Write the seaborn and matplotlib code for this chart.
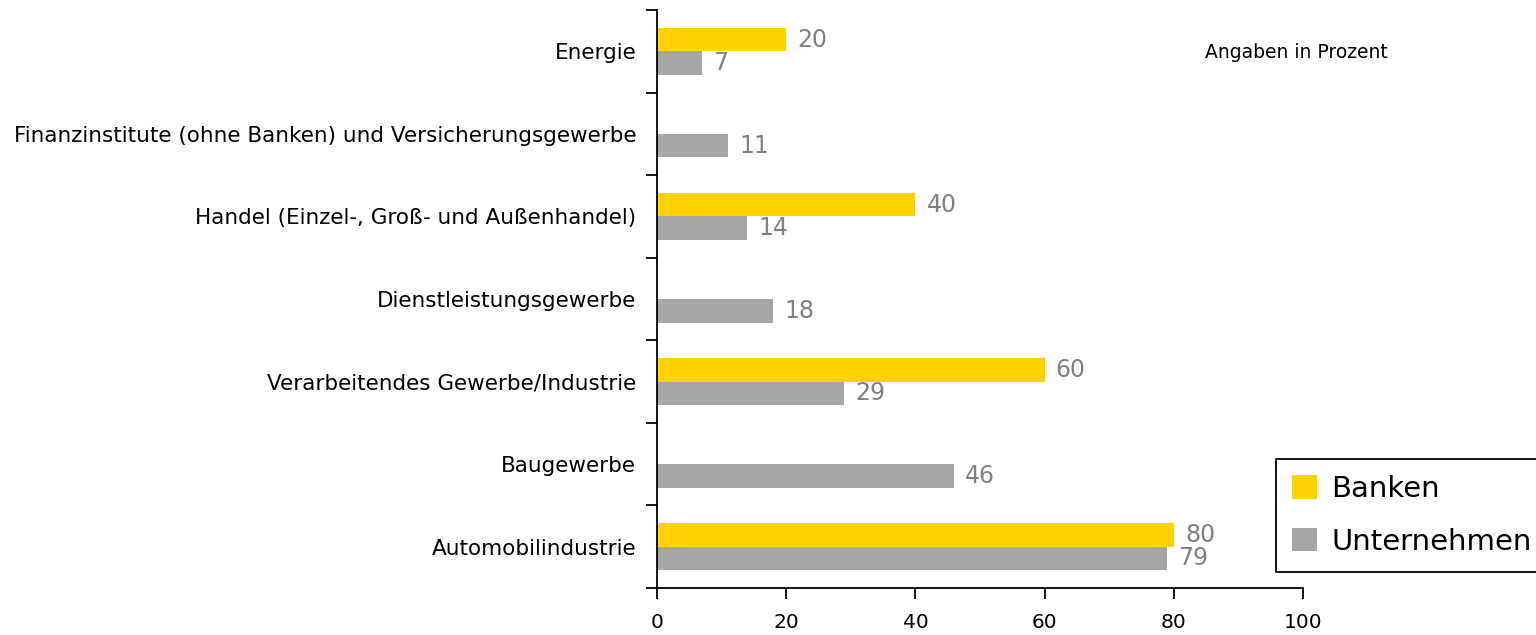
import pandas as pd
import numpy as np
import matplotlib
matplotlib.use('Agg')
import matplotlib.pyplot as plt
import seaborn as sns

# -------------------------------
# Data
# -------------------------------
categories = [
    'Energie',
    'Finanzinstitute (ohne Banken) und Versicherungsgewerbe',
    'Handel (Einzel-, Groß- und Außenhandel)',
    'Dienstleistungsgewerbe',
    'Verarbeitendes Gewerbe/Industrie',
    'Baugewerbe',
    'Automobilindustrie',
]
banken = [20, np.nan, 40, np.nan, 60, np.nan, 80]
unternehmen = [7, 11, 14, 18, 29, 46, 79]
series_names = ['Banken', 'Unternehmen']
colors = ['#FFD200', '#A6A6A6']
x_ticks = [0, 20, 40, 60, 80, 100]

df = pd.DataFrame({
    'Branche': categories * 2,
    'Wert': banken + unternehmen,
    'Gruppe': [series_names[0]] * len(categories) + [series_names[1]] * len(categories),
})

# -------------------------------
# Plot
# -------------------------------
sns.set_style('white')
plt.rcParams['font.family'] = ['DejaVu Sans']
plt.rcParams['text.color'] = 'black'
plt.rcParams['xtick.color'] = 'black'
plt.rcParams['ytick.color'] = 'black'

fig = plt.figure(figsize=(15.36, 6.35), dpi=100)
ax = fig.add_axes([657 / 1536, 1 - 588 / 635, (1303 - 657) / 1536, (588 - 10) / 635])

sns.barplot(data=df, x='Wert', y='Branche', hue='Gruppe', order=categories,
            hue_order=series_names, palette=colors, orient='h', width=0.57,
            gap=0, saturation=1, linewidth=0, ax=ax, legend=True)

# value labels
for cont in ax.containers:
    vals = cont.datavalues
    labels = ['' if np.isnan(v) else f'{v:.0f}' for v in vals]
    ax.bar_label(cont, labels=labels, padding=8, fontsize=17, color='#808080')

ax.set_xlim(0, 100)
ax.set_ylim(len(categories) - 0.5, -0.5)
ax.set_xticks(x_ticks)
ax.set_xlabel('')
ax.set_ylabel('')

# ticks at category boundaries
ax.set_yticks(np.arange(-0.5, len(categories)), minor=True)
ax.tick_params(axis='y', which='major', length=0, pad=15, labelsize=15.5, labelcolor='black')
ax.tick_params(axis='y', which='minor', length=8, width=1.3, color='black', direction='out', left=True)
ax.tick_params(axis='x', which='major', length=8, width=1.3, color='black', direction='out',
               bottom=True, pad=10, labelsize=14.5, labelcolor='black')

sns.despine(ax=ax, top=True, right=True)
for s in ['left', 'bottom']:
    ax.spines[s].set_color('black')
    ax.spines[s].set_linewidth(1.3)

# legend
handles, lbls = ax.get_legend_handles_labels()
leg = ax.legend(handles, lbls, loc='lower left', bbox_to_anchor=(1276 / 1536, 1 - 572 / 635),
                bbox_transform=fig.transFigure, fontsize=21, frameon=True, fancybox=False,
                edgecolor='black', framealpha=1, handlelength=0.85, handleheight=0.85,
                handletextpad=0.5, labelspacing=0.85, borderpad=0.55, borderaxespad=0)
leg.get_frame().set_linewidth(1.3)
for t in leg.get_texts():
    t.set_color('black')

fig.text(1296 / 1536, 1 - 53 / 635, 'Angaben in Prozent', fontsize=13.5, ha='center', va='center',
         color='black')

fig.savefig('out.png', dpi=100)
